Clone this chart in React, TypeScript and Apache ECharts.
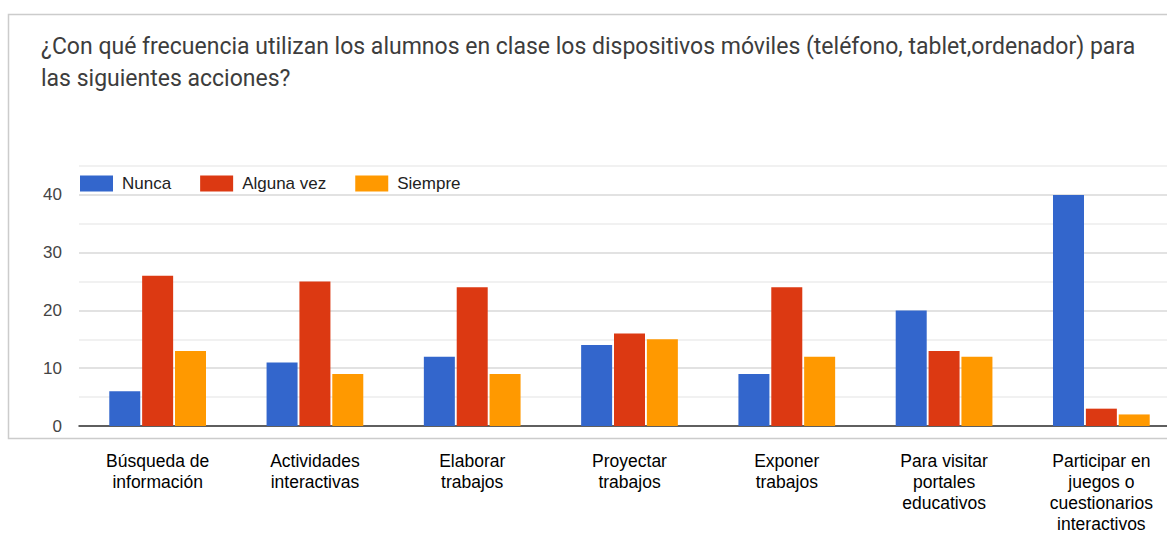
import React, { useEffect, useRef } from "react";
import * as echarts from "echarts";

const titleText =
  "¿Con qué frecuencia utilizan los alumnos en clase los dispositivos móviles (teléfono, tablet,ordenador) para\nlas siguientes acciones?";

const categories = [
  "Búsqueda de\ninformación",
  "Actividades\ninteractivas",
  "Elaborar\ntrabajos",
  "Proyectar\ntrabajos",
  "Exponer\ntrabajos",
  "Para visitar\nportales\neducativos",
  "Participar en\njuegos o\ncuestionarios\ninteractivos",
];

const seriesNames = ["Nunca", "Alguna vez", "Siempre"];
const nunca = [6, 11, 12, 14, 9, 20, 40];
const algunaVez = [26, 25, 24, 16, 24, 13, 3];
const siempre = [13, 9, 9, 15, 12, 12, 2];
const colors = ["#3366cc", "#dc3912", "#ff9900"];

export default function App() {
  const ref = useRef<HTMLDivElement>(null);
  useEffect(() => {
    if (!ref.current) return;
    const chart = echarts.init(ref.current, undefined, { renderer: "svg" });
    const values = [nunca, algunaVez, siempre];
    chart.setOption({
      animation: false,
      backgroundColor: "#ffffff",
      color: colors,
      graphic: [
        {
          type: "rect",
          shape: { x: 8.5, y: 14.5, width: 1230, height: 424 },
          style: { fill: "none", stroke: "#cccccc", lineWidth: 1.5 },
          z: -1,
        },
        {
          type: "text",
          x: 41,
          y: 30,
          style: {
            text: titleText,
            font: "23px Roboto, Arial, sans-serif",
            fill: "#3d3d3d",
            lineHeight: 32,
          },
        },
      ],
      legend: {
        left: 80,
        top: 175,
        padding: 0,
        itemWidth: 33,
        itemHeight: 16,
        itemGap: 29,
        icon: "rect",
        textStyle: {
          fontFamily: "Arial, 'Liberation Sans', sans-serif",
          fontSize: 17,
          color: "#222222",
          padding: [0, 0, 0, 4],
        },
        data: seriesNames,
      },
      grid: { left: 79, top: 166, width: 1101, height: 263, containLabel: false },
      xAxis: {
        type: "category",
        data: categories,
        axisTick: { show: false },
        axisLine: { show: true, lineStyle: { color: "#333333", width: 1.5 } },
        axisLabel: {
          interval: 0,
          margin: 24,
          fontFamily: "Arial, 'Liberation Sans', sans-serif",
          fontSize: 17.5,
          lineHeight: 21,
          color: "#000000",
        },
      },
      yAxis: {
        type: "value",
        min: 0,
        max: 45,
        interval: 5,
        axisLine: { show: false },
        axisTick: { show: false },
        axisLabel: {
          margin: 17,
          fontFamily: "Arial, 'Liberation Sans', sans-serif",
          fontSize: 17,
          color: "#444444",
          formatter: (v: number) => (v % 10 === 0 ? String(v) : ""),
        },
        splitLine: {
          lineStyle: { color: ["#d8d8d8", "#ececec"], width: 1.5 },
        },
      },
      series: seriesNames.map((name, i) => ({
        name,
        type: "bar",
        data: values[i],
        barWidth: 31,
        barGap: "6%",
        itemStyle: { color: colors[i] },
      })),
    });
    return () => chart.dispose();
  }, []);
  return (
    <div
      ref={ref}
      style={{ position: "fixed", left: 0, top: 0, width: 1240, height: 534 }}
    />
  );
}
